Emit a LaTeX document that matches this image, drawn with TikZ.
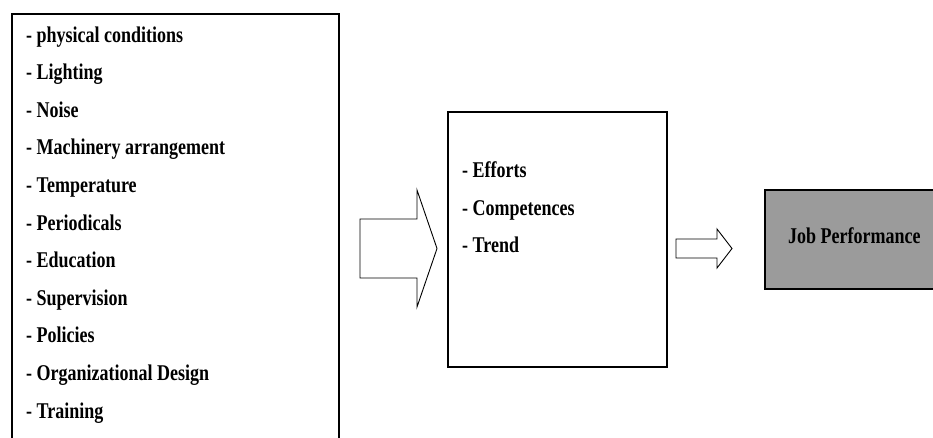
\documentclass[tikz,border=0pt]{standalone}
\usepackage{fontspec}
\setmainfont{Liberation Serif}[FakeStretch=0.8]
\definecolor{jobgray}{RGB}{155,155,155}
\begin{document}
\begin{tikzpicture}[x=1pt,y=1pt,
  box/.style={draw=black, line width=1.8pt, inner sep=0pt, anchor=north west},
  item/.style={anchor=base west, inner sep=0pt, font=\fontsize{22.5}{25}\selectfont\bfseries},
  blockarrow/.style={draw=black, line width=0.9pt, fill=white, line join=miter}]
\useasboundingbox (0,0) rectangle (933,-437);
\clip (0,0) rectangle (933,-437);

% factor list (box runs past the lower edge)
\node[box, minimum width=327, minimum height=440] (factors) at (11,-13) {};
\foreach \t [count=\i from 0] in {physical conditions, Lighting, Noise,
    Machinery arrangement, Temperature, Periodicals, Education, Supervision,
    Policies, Organizational Design, Training}
  \node[item] (f\i) at (26,{-42-37.6*\i}) {- \t};

% intermediate box
\node[box, minimum width=219, minimum height=255] (mid) at (447,-111) {};
\node[item] (m0) at (462,-177) {- Efforts};
\node[item] (m1) at (462,-215) {- Competences};
\node[item] (m2) at (462,-252) {- Trend};

% outcome box (runs past the right edge)
\node[box, fill=jobgray, minimum width=190, minimum height=99] (job) at (764,-189) {};
\node[item] (jobtext) at (788,-243) {Job Performance};

% block arrows
\draw[blockarrow] (360,-219) -- (417,-219) -- (417,-190) -- (437,-248.5)
  -- (417,-307) -- (417,-278) -- (360,-278) -- cycle;
\draw[blockarrow] (676,-239) -- (717,-239) -- (717,-229) -- (732,-248.5)
  -- (717,-268) -- (717,-258) -- (676,-258) -- cycle;
\end{tikzpicture}
\end{document}
